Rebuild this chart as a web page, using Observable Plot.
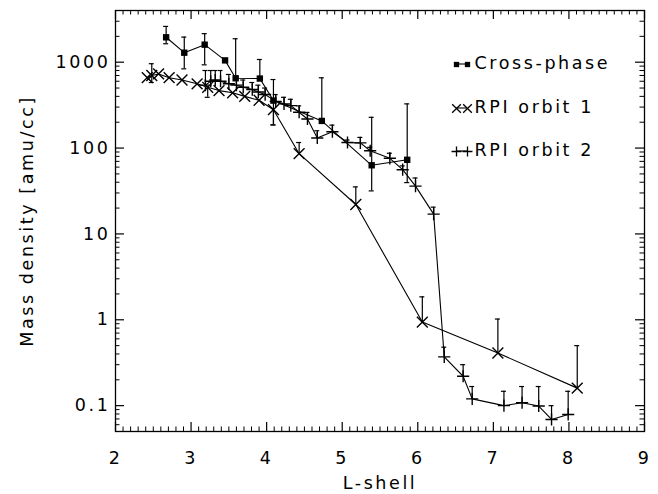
<!DOCTYPE html>
<html><head><meta charset="utf-8">
<script src="https://cdn.jsdelivr.net/npm/d3@7"></script>
<script src="https://cdn.jsdelivr.net/npm/@observablehq/plot@0.6"></script>
<style>html,body{margin:0;padding:0;background:#fff;} svg{display:block}</style>
</head><body><div id="chart"></div>
<script>
// ---- Data ----
const crossL   = [2.67, 2.91, 3.18, 3.45, 3.59, 3.91, 4.09, 4.73, 5.39, 5.86];
const crossRho = [1950, 1290, 1600, 1050, 650, 645, 357, 207, 63, 73];
const crossHi  = [2610, 1960, 2150, null, 1875, 1075, 628, 658, 228, 327];
const crossLo  = [1640, 837, 932, null, null, null, 186, null, 31.7, 39.6];

const orb1L   = [2.42, 2.48, 2.57, 2.71, 2.88, 3.08, 3.22, 3.37, 3.55, 3.71, 3.90, 4.09, 4.43, 5.18, 6.06, 7.06, 8.11];
const orb1Rho = [660, 700, 730, 660, 620, 560, 510, 467, 440, 400, 360, 280, 86, 22, 0.94, 0.41, 0.16];
const orb1Hi  = [null, 960, null, null, null, null, null, null, null, null, null, null, 116, 35.3, 1.85, 1.02, 0.50];
const orb1Lo  = [null, 580, null, null, null, null, 390, null, null, null, null, 186, null, null, null, null, null];

const orb2L   = [3.19, 3.26, 3.32, 3.39, 3.50, 3.60, 3.69, 3.81, 3.89, 3.98, 4.12, 4.23, 4.32, 4.43, 4.54, 4.67, 4.87, 5.07, 5.24, 5.37, 5.63, 5.80, 5.97, 6.21, 6.35, 6.60, 6.72, 7.14, 7.38, 7.60, 7.77, 7.99];
const orb2Rho = [540, 600, 620, 600, 560, 540, 510, 480, 450, 420, 350, 327, 312, 261, 218, 131, 155, 116, 115, 93, 76, 56, 36, 17, 0.37, 0.22, 0.12, 0.10, 0.108, 0.099, 0.069, 0.079];
const orb2Hi  = [800, 800, 800, 800, 720, 680, 620, 580, 540, 500, 420, 390, 370, 310, 260, 159, 185, 124, 133, 102, 87, 62, 44.8, 20.5, 0.48, 0.30, 0.167, 0.147, 0.167, 0.167, 0.10, 0.147];
const orb2Lo  = orb2L.map(() => null);

const xTicks = [2, 3, 4, 5, 6, 7, 8, 9];
const yTicks = [0.1, 1, 10, 100, 1000];
const yTickLabels = ["0.1", "1", "10", "100", "1000"];
const seriesNames = ["Cross-phase", "RPI orbit 1", "RPI orbit 2"];

// ---- Layout ----
const W = 658, H = 494;
const mL = 115, mR = 14, mT = 10, mB = 63;
const innerW = W - mL - mR, innerH = H - mT - mB;
const xDomain = [2, 9], yDomain = [0.05, 4000];
const FS = 17.5;

function rows(L, rho, hi, lo) {
  return L.map((x, i) => ({x, y: rho[i], hi: hi[i], lo: lo[i]}));
}
const cross = rows(crossL, crossRho, crossHi, crossLo);
const orb1 = rows(orb1L, orb1Rho, orb1Hi, orb1Lo);
const orb2 = rows(orb2L, orb2Rho, orb2Hi, orb2Lo);

const xMinor = d3.range(20, 91).map(v => v / 10).filter(v => !xTicks.includes(v));
const yMinor = [];
for (let e = -2; e <= 3; e++) for (let k = 2; k <= 9; k++) {
  const v = k * Math.pow(10, e);
  if (v > yDomain[0] * 1.001 && v < yDomain[1] * 0.999) yMinor.push(v);
}
const capHalf = 0.033;

function errMarks(data) {
  const up = data.filter(d => d.hi != null);
  const dn = data.filter(d => d.lo != null);
  return [
    Plot.ruleX(up, {x: "x", y1: "y", y2: "hi", stroke: "black", strokeWidth: 1.2}),
    Plot.ruleY(up, {y: "hi", x1: d => d.x - capHalf, x2: d => d.x + capHalf, stroke: "black", strokeWidth: 1.2}),
    Plot.ruleX(dn, {x: "x", y1: "y", y2: "lo", stroke: "black", strokeWidth: 1.2}),
    Plot.ruleY(dn, {y: "lo", x1: d => d.x - capHalf, x2: d => d.x + capHalf, stroke: "black", strokeWidth: 1.2})
  ];
}

const lx1 = 456 - mL, lx2 = 467 - mL;
const legY = [64 - mT, 108 - mT, 151 - mT];
const legTextX = 474 - mL;

const chart = Plot.plot({
  width: W, height: H,
  marginLeft: mL, marginRight: mR, marginTop: mT, marginBottom: mB,
  x: {type: "linear", domain: xDomain},
  y: {type: "log", domain: yDomain},
  style: {fontFamily: "'DejaVu Sans', sans-serif", fontSize: FS + "px", letterSpacing: "2.6px", background: "white", color: "black"},
  marks: [
    // tick labels
    Plot.axisX({ticks: xTicks, tickSize: 0, tickPadding: 20, tickFormat: d => String(d), label: null, fontSize: FS}),
    Plot.axisY({ticks: yTicks, tickSize: 0, tickPadding: 5, tickFormat: d => yTickLabels[yTicks.indexOf(d)], label: null, fontSize: FS}),
    // inward ticks (IDL style)
    Plot.tickX(xTicks, {x: d => d, insetTop: innerH - 9, stroke: "black", strokeWidth: 1.2}),
    Plot.tickX(xTicks, {x: d => d, insetBottom: innerH - 9, stroke: "black", strokeWidth: 1.2}),
    Plot.tickX(xMinor, {x: d => d, insetTop: innerH - 4.5, stroke: "black", strokeWidth: 1}),
    Plot.tickX(xMinor, {x: d => d, insetBottom: innerH - 4.5, stroke: "black", strokeWidth: 1}),
    Plot.tickY(yTicks, {y: d => d, insetRight: innerW - 9, stroke: "black", strokeWidth: 1.2}),
    Plot.tickY(yTicks, {y: d => d, insetLeft: innerW - 9, stroke: "black", strokeWidth: 1.2}),
    Plot.tickY(yMinor, {y: d => d, insetRight: innerW - 4.5, stroke: "black", strokeWidth: 1}),
    Plot.tickY(yMinor, {y: d => d, insetLeft: innerW - 4.5, stroke: "black", strokeWidth: 1}),
    // error bars
    ...errMarks(cross), ...errMarks(orb1), ...errMarks(orb2),
    // lines
    Plot.line(cross, {x: "x", y: "y", stroke: "black", strokeWidth: 1.1}),
    Plot.line(orb1, {x: "x", y: "y", stroke: "black", strokeWidth: 1.1}),
    Plot.line(orb2, {x: "x", y: "y", stroke: "black", strokeWidth: 1.1}),
    // markers
    Plot.dot(cross, {x: "x", y: "y", symbol: "square", r: 3.6, fill: "black", stroke: "none"}),
    Plot.dot(orb1, {x: "x", y: "y", symbol: "times", r: 5, fill: "none", stroke: "black", strokeWidth: 1.4}),
    Plot.dot(orb2, {x: "x", y: "y", symbol: "plus", r: 4, fill: "none", stroke: "black", strokeWidth: 1.4}),
    Plot.frame({stroke: "black", strokeWidth: 1.3}),
    // axis titles
    Plot.text(["L-shell"], {frameAnchor: "bottom", dy: 57, fontSize: FS, fill: "black"}),
    Plot.text(["Mass density [amu/cc]"], {frameAnchor: "left", dx: -88, rotate: -90, textAnchor: "middle", lineAnchor: "middle", fontSize: FS, fill: "black"}),
    // legend markers
    Plot.dot([0], {frameAnchor: "top-left", dx: lx1, dy: legY[0], symbol: "square", r: 3, fill: "black", stroke: "none"}),
    Plot.dot([0], {frameAnchor: "top-left", dx: lx2, dy: legY[0], symbol: "square", r: 3, fill: "black", stroke: "none"}),
    Plot.dot([0], {frameAnchor: "top-left", dx: lx1, dy: legY[1], symbol: "times", r: 4, fill: "none", stroke: "black", strokeWidth: 1.3}),
    Plot.dot([0], {frameAnchor: "top-left", dx: lx2, dy: legY[1], symbol: "times", r: 4, fill: "none", stroke: "black", strokeWidth: 1.3}),
    Plot.dot([0], {frameAnchor: "top-left", dx: lx1, dy: legY[2], symbol: "plus", r: 3.3, fill: "none", stroke: "black", strokeWidth: 1.3}),
    Plot.dot([0], {frameAnchor: "top-left", dx: lx2, dy: legY[2], symbol: "plus", r: 3.3, fill: "none", stroke: "black", strokeWidth: 1.3}),
    // legend labels
    ...seriesNames.map((s, i) => Plot.text([s], {frameAnchor: "top-left", dx: legTextX, dy: legY[i] - 1, textAnchor: "start", lineAnchor: "middle", fontSize: FS, fill: "black"}))
  ]
});

// legend connector segments
const svg = d3.select(chart);
legY.forEach(y => {
  svg.append("line")
    .attr("x1", mL + lx1).attr("x2", mL + lx2)
    .attr("y1", mT + y).attr("y2", mT + y)
    .attr("stroke", "black").attr("stroke-width", 1.1);
});

document.getElementById("chart").appendChild(chart);
</script>
</body></html>
